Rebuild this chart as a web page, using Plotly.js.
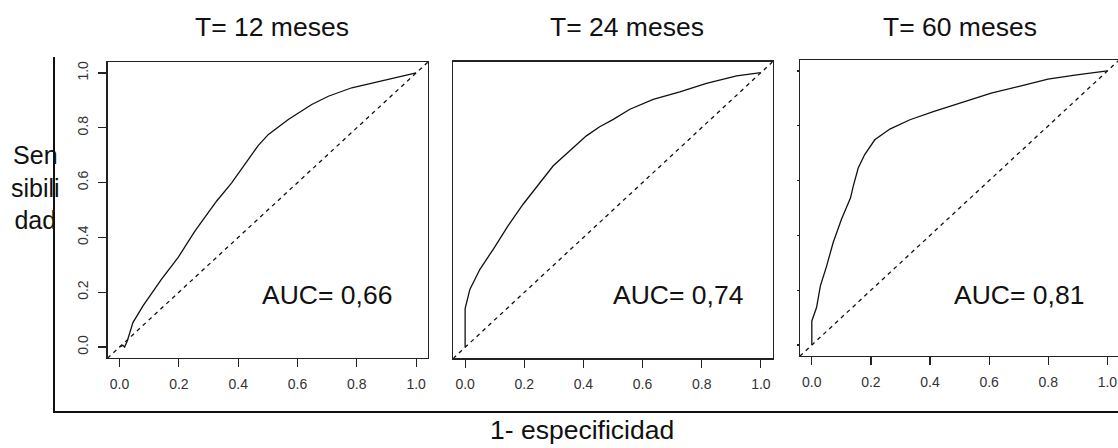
<!DOCTYPE html>
<html>
<head>
<meta charset="utf-8">
<script src="https://cdn.plot.ly/plotly-3.0.1.min.js"></script>
<style>html,body{margin:0;padding:0;background:#fff}#chart{width:1118px;height:448px}</style>
</head>
<body>
<div id="chart"></div>
<script>
// ---- data ----
const panelTitles = ["T= 12 meses", "T= 24 meses", "T= 60 meses"];
const aucLabels = ["AUC= 0,66", "AUC= 0,74", "AUC= 0,81"];
const tickVals = [0, 0.2, 0.4, 0.6, 0.8, 1.0];
const tickText = ["0.0", "0.2", "0.4", "0.6", "0.8", "1.0"];
const refLine = [-0.1, 1.1];

const fpr12 = [0, 0.011, 0.017, 0.026, 0.045, 0.079, 0.141, 0.197, 0.254, 0.327, 0.378, 0.423, 0.468, 0.502, 0.569, 0.648, 0.704, 0.783, 0.862, 0.930, 1.0];
const tpr12 = [0, 0.006, 0.0, 0.022, 0.089, 0.150, 0.247, 0.326, 0.423, 0.532, 0.599, 0.666, 0.736, 0.776, 0.830, 0.885, 0.915, 0.946, 0.966, 0.982, 1.0];

const fpr24 = [0, 0, 0.016, 0.050, 0.095, 0.145, 0.196, 0.253, 0.298, 0.354, 0.410, 0.455, 0.501, 0.557, 0.636, 0.726, 0.816, 0.918, 1.0];
const tpr24 = [0, 0.141, 0.211, 0.284, 0.357, 0.442, 0.521, 0.600, 0.661, 0.716, 0.770, 0.803, 0.830, 0.867, 0.903, 0.930, 0.961, 0.988, 1.0];

const fpr60 = [0, 0, 0.016, 0.029, 0.050, 0.072, 0.100, 0.131, 0.140, 0.157, 0.179, 0.213, 0.264, 0.332, 0.411, 0.498, 0.607, 0.698, 0.799, 0.890, 1.0];
const tpr60 = [0, 0.088, 0.137, 0.216, 0.288, 0.373, 0.458, 0.537, 0.579, 0.646, 0.695, 0.749, 0.788, 0.822, 0.852, 0.882, 0.919, 0.943, 0.970, 0.985, 1.0];

// ---- layout helpers ----
const W = 1118, H = 448;
const px = v => v / W;
const py = v => 1 - v / H;
const FONT = "Liberation Sans, Arial, sans-serif";
const BIG = 26.5;

const curves = [[fpr12, tpr12], [fpr24, tpr24], [fpr60, tpr60]];
const traces = [];
curves.forEach((c, i) => {
  const ax = i === 0 ? "" : String(i + 1);
  traces.push({x: refLine, y: refLine, xaxis: "x" + ax, yaxis: "y" + ax, mode: "lines",
    line: {color: "#111", width: 1.3, dash: "4px,4px"}, hoverinfo: "skip", showlegend: false});
  traces.push({x: c[0], y: c[1], xaxis: "x" + ax, yaxis: "y" + ax, mode: "lines",
    line: {color: "#111", width: 1.3}, showlegend: false});
});

const boxes = [
  {l: 107.7, r: 428, t: 62, b: 358, xr: [-0.04, 1.04]},
  {l: 453.3, r: 772.7, t: 61.7, b: 358.3, xr: [-0.04, 1.04]},
  {l: 800, r: 1118, t: 60, b: 356, xr: [-0.04, 1.036]}
];

const layout = {
  width: W, height: H,
  margin: {l: 0, r: 0, t: 0, b: 0},
  paper_bgcolor: "#fff", plot_bgcolor: "#fff",
  font: {family: FONT, color: "#111"},
  showlegend: false,
  annotations: [], shapes: []
};

boxes.forEach((b, i) => {
  const ax = i === 0 ? "" : String(i + 1);
  layout["xaxis" + ax] = {
    domain: [px(b.l), Math.min(1, px(b.r))], range: b.xr, anchor: "y" + ax,
    showline: true, mirror: true, linecolor: "#222", linewidth: 1.3,
    ticks: "outside", ticklen: 8, tickwidth: 1.2, tickcolor: "#222",
    tickvals: tickVals, ticktext: tickText, tickfont: {size: 14, color: "#333", family: FONT},
    ticklabelstandoff: 5,
    showgrid: false, zeroline: false, fixedrange: true, automargin: false
  };
  layout["yaxis" + ax] = {
    domain: [py(b.b), py(b.t)], range: [-0.04, 1.04], anchor: "x" + ax,
    showline: true, mirror: true, linecolor: "#222", linewidth: 1.3,
    ticks: i === 1 ? "" : "outside", ticklen: i === 0 ? 8 : 2, tickwidth: 1.2, tickcolor: "#222",
    tickvals: tickVals, ticktext: tickText, showticklabels: i === 0,
    tickangle: -90, tickfont: {size: 14, color: "#333", family: FONT},
    ticklabelstandoff: 5,
    showgrid: false, zeroline: false, fixedrange: true, automargin: false
  };
});

const titleX = [272, 627, 960];
const aucX = [327, 678, 1019];
panelTitles.forEach((t, i) => {
  layout.annotations.push({text: t, x: px(titleX[i]), y: py(27), xref: "paper", yref: "paper",
    xanchor: "center", yanchor: "middle", showarrow: false, font: {size: BIG, family: FONT, color: "#111"}});
  layout.annotations.push({text: aucLabels[i], x: px(aucX[i]), y: py(295), xref: "paper", yref: "paper",
    xanchor: "center", yanchor: "middle", showarrow: false, font: {size: BIG, family: FONT, color: "#111"}});
});
layout.annotations.push({text: "Sen<br>sibili<br>dad", x: px(35), y: py(187), xref: "paper", yref: "paper",
  xanchor: "center", yanchor: "middle", align: "center", showarrow: false, font: {size: 25, family: FONT, color: "#111"}});
layout.annotations.push({text: "1- especificidad", x: px(582), y: py(430), xref: "paper", yref: "paper",
  xanchor: "center", yanchor: "middle", showarrow: false, font: {size: BIG, family: FONT, color: "#111"}});

layout.shapes.push({type: "line", xref: "paper", yref: "paper", x0: px(54), x1: px(54), y0: py(57), y1: py(412),
  line: {color: "#111", width: 2}});
layout.shapes.push({type: "line", xref: "paper", yref: "paper", x0: px(53), x1: 1, y0: py(412), y1: py(412),
  line: {color: "#111", width: 2}});

Plotly.newPlot("chart", traces, layout, {staticPlot: true, displayModeBar: false});
</script>
</body>
</html>
